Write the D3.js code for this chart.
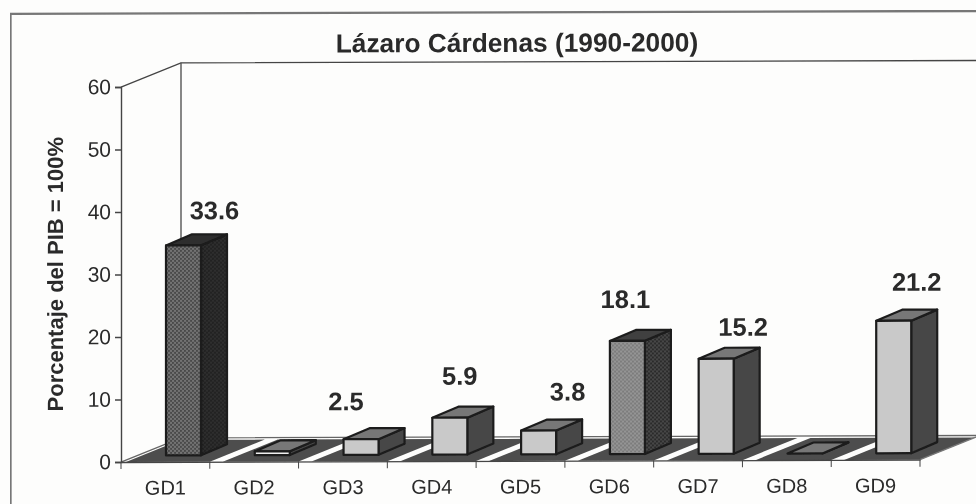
<!DOCTYPE html>
<html lang="en">
  <head>
    <meta charset="UTF-8" />
    <title>Lázaro Cárdenas (1990-2000)</title>
    <script src="https://d3js.org/d3.v7.min.js"></script>
    <style>
      html, body { margin: 0; padding: 0; background: #fdfdfc; }
      svg { display: block; }
      text { font-family: "Liberation Sans", Arial, sans-serif; fill: #2b2b2b; }
    </style>
  </head>
  <body>
    <div id="chart"></div>
    <script>
      const title = "Lázaro Cárdenas (1990-2000)";
      const yTitle = "Porcentaje del PIB = 100%";
      const categories = ["GD1", "GD2", "GD3", "GD4", "GD5", "GD6", "GD7", "GD8", "GD9"];
      const values = [33.6, 0.6, 2.5, 5.9, 3.8, 18.1, 15.2, 0, 21.2];
      const valueLabels = ["33.6", "", "2.5", "5.9", "3.8", "18.1", "15.2", "", "21.2"];
      const yTicks = [0, 10, 20, 30, 40, 50, 60];
      // labels were moved by hand in the original chart
      const labelNudgeX = [31, 0, -15, 10, 29, -2, 27, 0, 23];
      const labelNudgeY = [-26, 0, -29, -33, -30, -33, -23, 0, -30];

      const width = 976, height = 504;
      const depthX = 60, depthY = 24;   // floor depth
      const barW = 35, barDX = 26, barDY = 11;
      const stripe = 13;

      const svg = d3.select("#chart").append("svg")
        .attr("width", width)
        .attr("height", height);

      const defs = svg.append("defs");
      defs.append("filter").attr("id", "scan")
        .attr("x", 0).attr("y", 0).attr("width", 1).attr("height", 1)
        .attr("filterUnits", "objectBoundingBox")
        .append("feGaussianBlur").attr("stdDeviation", 0.6);

      function dots(id, bg, fg) {
        const p = defs.append("pattern").attr("id", id)
          .attr("width", 4).attr("height", 4)
          .attr("patternUnits", "userSpaceOnUse");
        p.append("rect").attr("width", 4).attr("height", 4).attr("fill", bg);
        p.append("circle").attr("cx", 1).attr("cy", 1).attr("r", 0.9).attr("fill", fg);
        p.append("circle").attr("cx", 3).attr("cy", 3).attr("r", 0.9).attr("fill", fg);
      }
      dots("front1", "#4a4a4a", "#8a8a8a");
      dots("side1", "#222", "#333");
      dots("front6", "#7c7c7c", "#a2a2a2");
      dots("side6", "#2c2c2c", "#555");

      svg.append("rect").attr("width", width).attr("height", height).attr("fill", "#fdfdfc");

      const g = svg.append("g").attr("filter", "url(#scan)")
        .append("g").attr("transform", "translate(0,0.4) skewY(-0.17)");

      const x = d3.scaleBand().domain(categories).range([121, 920]);
      const y = d3.scaleLinear().domain([0, 60]).range([462, 87]);

      // frame
      g.append("path")
        .attr("d", "M10.5,510V13.5H980")
        .attr("fill", "none").attr("stroke", "#777").attr("stroke-width", 2.3);

      // walls
      g.append("path")
        .attr("d", `M${x.range()[0]},${y(60)}L${x.range()[0] + depthX},${y(60) - depthY}H${width + 5}`)
        .attr("fill", "none").attr("stroke", "#444").attr("stroke-width", 1.4);
      g.append("line")
        .attr("x1", x.range()[0] + depthX).attr("x2", x.range()[0] + depthX)
        .attr("y1", y(60) - depthY).attr("y2", y(0) - depthY)
        .attr("stroke", "#555").attr("stroke-width", 1.4);

      // floor
      const floorBack = 22 / depthY;
      g.selectAll("path.floor").data(categories).join("path")
        .attr("class", "floor")
        .attr("fill", "#4d4d4d")
        .attr("d", (d, i) => {
          const a = x(d) + (i === 0 ? 5 : stripe), b = x(d) + x.bandwidth();
          return `M${a},${y(0)}L${b},${y(0)}L${b + depthX * floorBack},${y(0) - depthY * floorBack}L${a + depthX * floorBack},${y(0) - depthY * floorBack}Z`;
        });
      g.append("path")
        .attr("d", `M${x.range()[0]},${y(0)}L${x.range()[0] + depthX},${y(0) - depthY}H${width + 5}`)
        .attr("fill", "none").attr("stroke", "#666").attr("stroke-width", 1.4);
      g.append("line")
        .attr("x1", x.range()[1]).attr("y1", y(0))
        .attr("x2", x.range()[1] + depthX).attr("y2", y(0) - depthY)
        .attr("stroke", "#777").attr("stroke-width", 1.4);

      // bars
      const barX = d => x(d) + 45;
      const baseY = y(0) - 6.5;
      const topY = v => y(v) - 6.5;
      const frontFill = (d, i) => i === 0 ? "url(#front1)" : i === 5 ? "url(#front6)" : i === 1 ? "#eeeeee" : "#c9c9c9";
      const sideFill = (d, i) => i === 0 ? "url(#side1)" : i === 5 ? "url(#side6)" : "#464646";
      const topFill = (d, i) => i === 0 ? "#2f2f2f" : i === 5 ? "#3f3f3f" : "#777777";

      const bars = g.selectAll("g.bar").data(categories).join("g")
        .attr("class", "bar")
        .attr("stroke", "#1c1c1c").attr("stroke-width", 2.2).attr("stroke-linejoin", "round");
      bars.append("path").attr("fill", sideFill)
        .attr("d", (d, i) => {
          const xr = barX(d) + barW, t = topY(values[i]);
          return `M${xr},${t}L${xr + barDX},${t - barDY}V${baseY - barDY}L${xr},${baseY}Z`;
        });
      bars.append("path").attr("fill", topFill)
        .attr("d", (d, i) => {
          const xl = barX(d), t = topY(values[i]);
          return `M${xl},${t}L${xl + barDX},${t - barDY}H${xl + barDX + barW}L${xl + barW},${t}Z`;
        });
      bars.append("rect").attr("fill", frontFill)
        .attr("x", d => barX(d))
        .attr("y", (d, i) => topY(values[i]))
        .attr("width", barW)
        .attr("height", (d, i) => baseY - topY(values[i]));

      // axes
      const yAxis = g.append("g").attr("transform", `translate(${x.range()[0]},0)`)
        .call(d3.axisLeft(y).tickValues(yTicks).tickSize(6).tickPadding(4));
      yAxis.selectAll("text").attr("font-size", 21).style("font-family", '"Liberation Sans", Arial, sans-serif');

      const xAxis = g.append("g").attr("transform", `translate(0,${y(0)})`)
        .call(d3.axisBottom(x).tickSize(0).tickPadding(18.5));
      xAxis.selectAll("text").attr("font-size", 20).style("font-family", '"Liberation Sans", Arial, sans-serif');
      xAxis.selectAll(".edge").data(d3.range(categories.length + 1)).join("line")
        .attr("class", "edge")
        .attr("x1", i => x.range()[0] + i * x.bandwidth())
        .attr("x2", i => x.range()[0] + i * x.bandwidth())
        .attr("y1", 0).attr("y2", 7)
        .attr("stroke", "#444");
      g.selectAll(".domain, .tick line").attr("stroke", "#444").attr("stroke-width", 1.4);

      // value labels
      g.selectAll("text.value").data(categories).join("text")
        .attr("class", "value")
        .attr("text-anchor", "middle")
        .attr("font-size", 25.5)
        .attr("font-weight", "bold")
        .attr("x", (d, i) => barX(d) + barW / 2 + labelNudgeX[i])
        .attr("y", (d, i) => topY(values[i]) + labelNudgeY[i])
        .text((d, i) => valueLabels[i]);

      // titles
      g.append("text")
        .attr("x", 517).attr("y", 53)
        .attr("text-anchor", "middle")
        .attr("font-size", 26.3)
        .attr("font-weight", "bold")
        .text(title);
      g.append("text")
        .attr("transform", "translate(63,274) rotate(-90)")
        .attr("text-anchor", "middle")
        .attr("font-size", 22)
        .attr("font-weight", "bold")
        .text(yTitle);
    </script>
  </body>
</html>
